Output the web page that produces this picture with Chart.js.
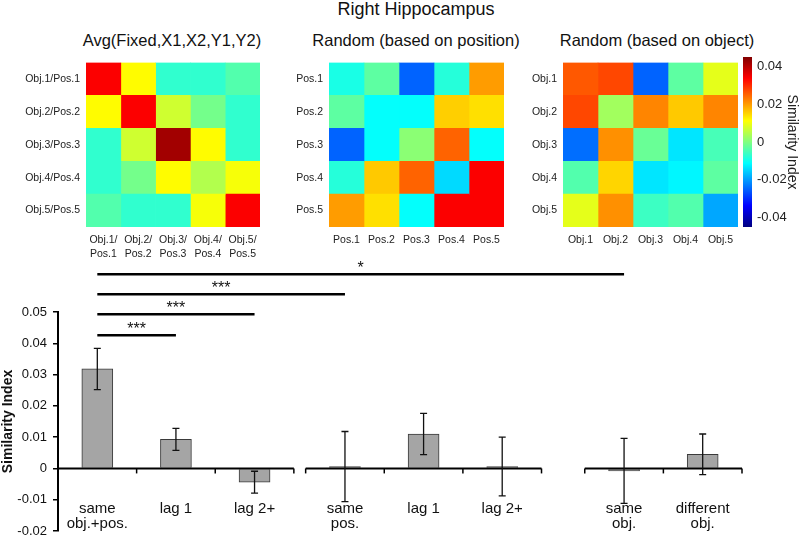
<!DOCTYPE html>
<html>
<head>
<meta charset="utf-8">
<script src="https://cdn.jsdelivr.net/npm/chart.js@4.4.1/dist/chart.umd.min.js"></script>
<style>
  body { margin: 0; background: #fff; font-family: "Liberation Sans", Arial, sans-serif; }
  #wrap { position: relative; width: 800px; height: 537px; overflow: hidden; }
  canvas, .ttl { position: absolute; }
  .ttl { transform: translateX(-50%); white-space: nowrap; color: #111; line-height: 20px; }
</style>
</head>
<body>
<div id="wrap">
  <div class="ttl" style="left:416px;top:-1px;font-size:18px">Right Hippocampus</div>
  <div class="ttl" style="left:172px;top:30px;font-size:16.5px">Avg(Fixed,X1,X2,Y1,Y2)</div>
  <div class="ttl" style="left:416px;top:30px;font-size:16.5px">Random (based on position)</div>
  <div class="ttl" style="left:657px;top:30px;font-size:16.5px">Random (based on object)</div>
  <canvas id="hmAvg" style="left:0;top:50px" width="275" height="215"></canvas>
  <canvas id="hmPos" style="left:265px;top:50px" width="255" height="215"></canvas>
  <canvas id="hmObj" style="left:510px;top:50px" width="240" height="215"></canvas>
  <canvas id="cbar" style="left:735px;top:40px" width="65" height="200"></canvas>
  <canvas id="bars" style="left:0;top:250px" width="800" height="295"></canvas>
</div>
<script>
// ---- heatmap data (rows top to bottom, columns left to right) ----
const avgRowLabels = ['Obj.1/Pos.1', 'Obj.2/Pos.2', 'Obj.3/Pos.3', 'Obj.4/Pos.4', 'Obj.5/Pos.5'];
const avgColLabels = [['Obj.1/', 'Pos.1'], ['Obj.2/', 'Pos.2'], ['Obj.3/', 'Pos.3'], ['Obj.4/', 'Pos.4'], ['Obj.5/', 'Pos.5']];
const avgMatrix = [
  [0.034, 0.0115, -0.007, -0.007, -0.004],
  [0.0115, 0.034, 0.007, -0.001, -0.007],
  [-0.007, 0.007, 0.042, 0.0115, -0.007],
  [-0.007, -0.001, 0.0115, 0.0045, 0.0105],
  [-0.004, -0.007, -0.007, 0.0105, 0.034]
];

const posLabels = ['Pos.1', 'Pos.2', 'Pos.3', 'Pos.4', 'Pos.5'];
const posMatrix = [
  [-0.009, -0.003, -0.025, -0.008, 0.020],
  [-0.003, -0.011, -0.011, 0.0155, 0.014],
  [-0.025, -0.011, 0.001, 0.025, -0.011],
  [-0.008, 0.016, 0.025, -0.0145, 0.034],
  [0.020, 0.014, -0.011, 0.034, 0.034]
];

const objLabels = ['Obj.1', 'Obj.2', 'Obj.3', 'Obj.4', 'Obj.5'];
const objMatrix = [
  [0.026, 0.0275, -0.025, -0.003, 0.009],
  [0.0275, 0.003, 0.022, 0.016, 0.022],
  [-0.024, 0.021, -0.002, -0.0135, -0.005],
  [-0.004, 0.015, -0.0135, -0.012, -0.003],
  [0.009, 0.021, -0.006, -0.004, -0.019]
];

const cbMin = -0.045;
const cbMax = 0.045;
const colorbarTicks = [-0.04, -0.02, 0, 0.02, 0.04];

// ---- bar chart data ----
const barLabels = [['same', 'obj.+pos.'], 'lag 1', 'lag 2+', ['same', 'pos.'], 'lag 1', 'lag 2+', ['same', 'obj.'], ['different', 'obj.']];
const barValues = [0.0318, 0.0093, -0.0044, 0.0006, 0.011, 0.0006, -0.0008, 0.0045];
const barErrors = [0.0066, 0.0035, 0.0035, 0.0112, 0.0066, 0.0094, 0.0104, 0.0065];
const barGroups = [3, 3, 2];
const yTicks = { min: -0.02, max: 0.05, step: 0.01 };

// significance brackets
const sigFrom = [0, 0, 0, 0];
const sigTo = [1, 2, 3, 6];
const sigLevels = [0.0426, 0.0493, 0.0557, 0.0621];
const sigMarks = ['***', '***', '***', '*'];

// jet colormap
function jet(v) {
  let t = (v - cbMin) / (cbMax - cbMin);
  t = Math.min(1, Math.max(0, t));
  const c = k => Math.round(255 * Math.min(1, Math.max(0, 1.5 - Math.abs(4 * t - k))));
  return 'rgb(' + c(3) + ',' + c(2) + ',' + c(1) + ')';
}

const labelFont = { family: '"Liberation Sans", Arial, sans-serif', size: 10.5, lineHeight: 1.25 };

function makeHeatmap(id, matrix, rowLabels, colLabels, yWidth, padRight) {
  const datasets = colLabels.map((_, c) => ({
    data: rowLabels.map(() => 1),
    backgroundColor: matrix.map(row => jet(row[c])),
    borderWidth: 0,
    barPercentage: 1,
    categoryPercentage: 1
  }));
  return new Chart(document.getElementById(id), {
    type: 'bar',
    data: { labels: rowLabels, datasets: datasets },
    options: {
      responsive: false,
      animation: false,
      indexAxis: 'y',
      layout: { padding: { top: 7, right: padRight, left: 0, bottom: 0 } },
      plugins: { legend: { display: false }, tooltip: { enabled: false } },
      scales: {
        y: {
          stacked: true,
          grid: { display: false, drawTicks: false },
          border: { display: false },
          ticks: { color: '#222', font: labelFont, padding: 6 },
          afterFit: s => { s.width = yWidth; }
        },
        x: {
          stacked: true,
          min: 0,
          max: colLabels.length,
          grid: { display: false, drawTicks: false },
          border: { display: false },
          afterBuildTicks: s => { s.ticks = colLabels.map((_, i) => ({ value: i + 0.5 })); },
          ticks: {
            autoSkip: false,
            maxRotation: 0,
            color: '#222',
            font: labelFont,
            padding: 7,
            callback: (v, i) => colLabels[i]
          },
          afterFit: s => { s.height = 38; }
        }
      }
    }
  });
}

makeHeatmap('hmAvg', avgMatrix, avgRowLabels, avgColLabels, 86, 15);
makeHeatmap('hmPos', posMatrix, posLabels, posLabels, 64, 16);
makeHeatmap('hmObj', objMatrix, objLabels, objLabels, 53, 12);

// colour bar
new Chart(document.getElementById('cbar'), {
  type: 'bar',
  data: {
    labels: [''],
    datasets: [{
      data: [[cbMin, cbMax]],
      barPercentage: 1,
      categoryPercentage: 1,
      borderWidth: 0,
      backgroundColor: ctx => {
        const area = ctx.chart.chartArea;
        if (!area) return '#888';
        const g = ctx.chart.ctx.createLinearGradient(0, area.bottom, 0, area.top);
        for (let i = 0; i <= 32; i++) {
          g.addColorStop(i / 32, jet(cbMin + (i / 32) * (cbMax - cbMin)));
        }
        return g;
      }
    }]
  },
  options: {
    responsive: false,
    animation: false,
    layout: { padding: { left: 8, top: 17, bottom: 13, right: 0 } },
    plugins: { legend: { display: false }, tooltip: { enabled: false } },
    scales: {
      x: { display: false },
      y: {
        position: 'right',
        min: cbMin,
        max: cbMax,
        grid: { display: false, drawTicks: false },
        border: { display: false },
        afterBuildTicks: s => { s.ticks = colorbarTicks.map(v => ({ value: v })); },
        ticks: {
          color: '#222',
          padding: 5,
          font: { family: '"Liberation Sans", Arial, sans-serif', size: 13 },
          callback: v => (Math.abs(v) < 1e-9 ? '0' : v.toFixed(2))
        },
        title: {
          display: true,
          text: 'Similarity Index',
          color: '#222',
          padding: 0,
          font: { family: '"Liberation Sans", Arial, sans-serif', size: 14 }
        },
        afterFit: s => { s.width = 48; }
      }
    }
  }
});

// bar positions: slots of width 1, with a small break between groups
const groupGaps = [0.15, 0.55];
const barPositions = [];
const groupSpans = [];
let cursor = 0;
barGroups.forEach((n, g) => {
  groupSpans.push([cursor, cursor + n]);
  for (let i = 0; i < n; i++) barPositions.push(cursor + i + 0.5);
  cursor += n + (groupGaps[g] || 0);
});

const barExtras = {
  id: 'barExtras',
  afterDatasetsDraw(chart) {
    const { ctx, chartArea } = chart;
    const x = chart.scales.x;
    const y = chart.scales.y;
    const y0 = y.getPixelForValue(0);
    ctx.save();

    // broken horizontal axis at zero
    ctx.strokeStyle = '#000';
    groupSpans.forEach(([a, b]) => {
      ctx.lineWidth = 2;
      ctx.beginPath();
      ctx.moveTo(x.getPixelForValue(a), y0);
      ctx.lineTo(x.getPixelForValue(b), y0);
      ctx.stroke();
      ctx.lineWidth = 1.5;
      for (let t = a; t <= b + 1e-9; t++) {
        if (t === 0) continue;
        const px = x.getPixelForValue(t);
        ctx.beginPath();
        ctx.moveTo(px, y0);
        ctx.lineTo(px, y0 + 5);
        ctx.stroke();
      }
    });

    // error bars
    ctx.strokeStyle = '#111';
    ctx.lineWidth = 1.3;
    barValues.forEach((v, i) => {
      const px = x.getPixelForValue(barPositions[i]);
      const top = y.getPixelForValue(v + barErrors[i]);
      const bot = y.getPixelForValue(v - barErrors[i]);
      ctx.beginPath();
      ctx.moveTo(px, top); ctx.lineTo(px, bot);
      ctx.moveTo(px - 3.5, top); ctx.lineTo(px + 3.5, top);
      ctx.moveTo(px - 3.5, bot); ctx.lineTo(px + 3.5, bot);
      ctx.stroke();
    });

    // significance brackets
    ctx.strokeStyle = '#000';
    ctx.fillStyle = '#111';
    ctx.lineWidth = 2.5;
    ctx.textAlign = 'center';
    ctx.textBaseline = 'middle';
    ctx.font = '16px "Liberation Sans", Arial, sans-serif';
    sigFrom.forEach((f, i) => {
      const x1 = x.getPixelForValue(barPositions[f]);
      const x2 = x.getPixelForValue(barPositions[sigTo[i]]);
      const py = y.getPixelForValue(sigLevels[i]);
      ctx.beginPath();
      ctx.moveTo(x1, py); ctx.lineTo(x2, py);
      ctx.stroke();
      ctx.fillText(sigMarks[i], (x1 + x2) / 2, py - 6);
    });

    // category labels
    ctx.font = '15px "Liberation Sans", Arial, sans-serif';
    barLabels.forEach((lab, i) => {
      const px = x.getPixelForValue(barPositions[i]);
      const lines = Array.isArray(lab) ? lab : [lab];
      lines.forEach((s, k) => ctx.fillText(s, px, chartArea.bottom - 22 + k * 15));
    });
    ctx.restore();
  }
};

new Chart(document.getElementById('bars'), {
  type: 'bar',
  data: {
    datasets: [{
      data: barValues.map((v, i) => ({ x: barPositions[i], y: v })),
      backgroundColor: '#a5a5a5',
      borderColor: '#3a3a3a',
      borderWidth: 1,
      barThickness: 31
    }]
  },
  options: {
    responsive: false,
    animation: false,
    layout: { padding: { left: 0, right: 58, top: 62, bottom: 14 } },
    plugins: { legend: { display: false }, tooltip: { enabled: false } },
    scales: {
      x: { type: 'linear', offset: false, min: 0, max: cursor, display: false },
      y: {
        min: yTicks.min,
        max: yTicks.max,
        grid: { drawOnChartArea: false, drawTicks: true, tickLength: 5, color: '#000', lineWidth: 1.5 },
        border: { display: true, color: '#000', width: 2 },
        ticks: {
          stepSize: yTicks.step,
          color: '#111',
          padding: 6,
          font: { family: '"Liberation Sans", Arial, sans-serif', size: 13 },
          callback: v => (Math.abs(v) < 1e-9 ? '0' : v.toFixed(2))
        },
        title: {
          display: true,
          text: 'Similarity Index',
          color: '#111',
          padding: 0,
          font: { family: '"Liberation Sans", Arial, sans-serif', size: 14, weight: 'bold' }
        },
        afterFit: s => { s.width = 58; }
      }
    }
  },
  plugins: [barExtras]
});
</script>
</body>
</html>
